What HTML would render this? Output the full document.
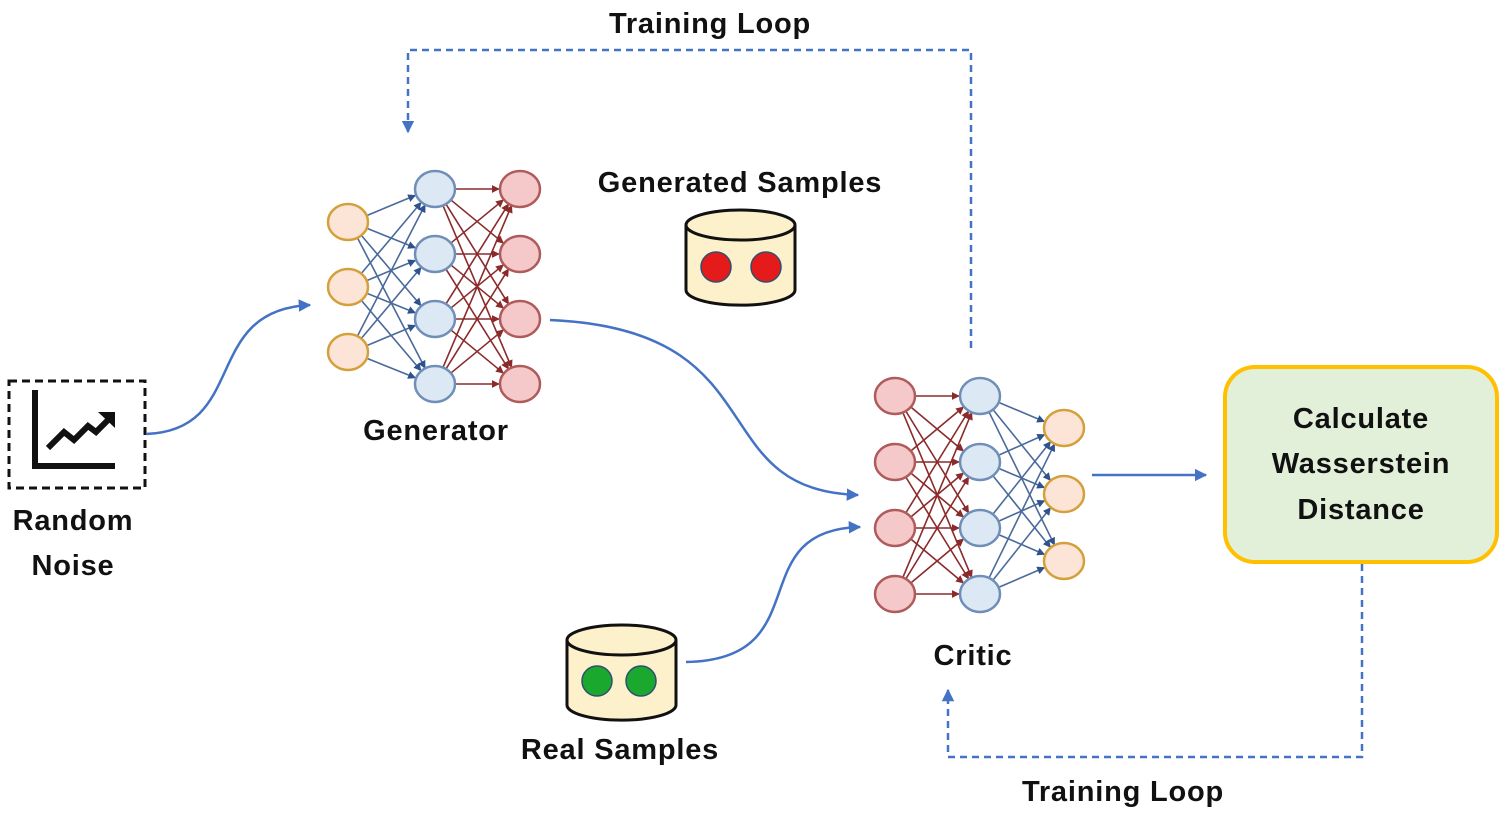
<!DOCTYPE html>
<html><head><meta charset="utf-8"><style>
html,body{margin:0;padding:0;background:#fff;}
svg{display:block;}
text{font-family:"Liberation Sans",sans-serif;font-size:29px;font-weight:bold;letter-spacing:0.8px;fill:#111;}
</style></head><body>
<svg id="s" width="1505" height="817" viewBox="0 0 1505 817" xmlns="http://www.w3.org/2000/svg">
<defs>
<marker id="ab" viewBox="0 0 10 10" refX="9" refY="5" markerWidth="5" markerHeight="5" orient="auto"><path d="M0,0L10,5L0,10z" fill="#4472c4"/></marker>
<marker id="nb" viewBox="0 0 10 10" refX="9" refY="5" markerWidth="5" markerHeight="5" orient="auto"><path d="M0,0L10,5L0,10z" fill="#2f528f"/></marker>
<marker id="nr" viewBox="0 0 10 10" refX="9" refY="5" markerWidth="5" markerHeight="5" orient="auto"><path d="M0,0L10,5L0,10z" fill="#8b2a2a"/></marker>
</defs>
<g id="net"></g>
<rect x="9" y="381" width="136" height="107" fill="none" stroke="#111" stroke-width="3" stroke-dasharray="8,5"/>
<path d="M35,390V466H115" fill="none" stroke="#111" stroke-width="6"/>
<path d="M48,448L64,432L74,440L88,426L96,432L108,420" fill="none" stroke="#111" stroke-width="6"/>
<path d="M98,412L115,412L115,428z" fill="#111"/>
<text x="73" y="530" text-anchor="middle">Random</text>
<text x="73" y="575" text-anchor="middle">Noise</text>
<path d="M146,434C250,430 200,310 310,305" fill="none" stroke="#4472c4" stroke-width="2.5" marker-end="url(#ab)"/>
<path d="M550,320C780,330 700,490 858,495" fill="none" stroke="#4472c4" stroke-width="2.5" marker-end="url(#ab)"/>
<path d="M686,662C820,660 740,530 860,527" fill="none" stroke="#4472c4" stroke-width="2.5" marker-end="url(#ab)"/>
<path d="M1092,475H1206" fill="none" stroke="#4472c4" stroke-width="2.5" marker-end="url(#ab)"/>
<path d="M971,348V50H408V132" fill="none" stroke="#4472c4" stroke-width="2.5" stroke-dasharray="7,5" marker-end="url(#ab)"/>
<path d="M1362,564V757H948V690" fill="none" stroke="#4472c4" stroke-width="2.5" stroke-dasharray="7,5" marker-end="url(#ab)"/>
<text x="710" y="33" text-anchor="middle">Training Loop</text>
<text x="1123" y="801" text-anchor="middle">Training Loop</text>
<text x="436" y="440" text-anchor="middle">Generator</text>
<text x="973" y="665" text-anchor="middle">Critic</text>
<text x="740" y="192" text-anchor="middle">Generated Samples</text>
<text x="620" y="759" text-anchor="middle">Real Samples</text>
<path d="M686,225V290A54,15 0 0 0 795,290V225" fill="#fdf1cc" stroke="#111" stroke-width="3"/>
<ellipse cx="740.5" cy="225" rx="54.5" ry="15" fill="#fdf1cc" stroke="#111" stroke-width="3"/>
<circle cx="716" cy="267" r="15" fill="#e51b1b" stroke="#2f4f6f" stroke-width="1.5"/>
<circle cx="766" cy="267" r="15" fill="#e51b1b" stroke="#2f4f6f" stroke-width="1.5"/>
<path d="M567,640V705A54,15 0 0 0 676,705V640" fill="#fdf1cc" stroke="#111" stroke-width="3"/>
<ellipse cx="621.5" cy="640" rx="54.5" ry="15" fill="#fdf1cc" stroke="#111" stroke-width="3"/>
<circle cx="597" cy="681" r="15" fill="#1aa82e" stroke="#2f4f6f" stroke-width="1.5"/>
<circle cx="641" cy="681" r="15" fill="#1aa82e" stroke="#2f4f6f" stroke-width="1.5"/>
<rect x="1225" y="367" width="272" height="195" rx="30" fill="#e2efd9" stroke="#ffc000" stroke-width="4"/>
<text x="1361" y="428" text-anchor="middle">Calculate</text>
<text x="1361" y="473" text-anchor="middle">Wasserstein</text>
<text x="1361" y="519" text-anchor="middle">Distance</text>
</svg>
<script>
var g=document.getElementById('net'),NS='http://www.w3.org/2000/svg';
function el(t,a){var e=document.createElementNS(NS,t);for(var k in a)e.setAttribute(k,a[k]);g.appendChild(e);}
var Y=[['#fce4d6','#d4a03c'],['#dde8f5','#6f8fb8'],['#f5c9c9','#b05b5b']];
function layer(x,ys,c){return ys.map(function(y){return {x:x,y:y,c:c};});}
function net(Ls,cols){
 for(var i=0;i<Ls.length-1;i++){
  Ls[i].forEach(function(a){Ls[i+1].forEach(function(b){
   var dx=b.x-a.x,dy=b.y-a.y,l=Math.sqrt(dx*dx+dy*dy);
   el('line',{x1:a.x+dx/l*20,y1:a.y+dy/l*18,x2:b.x-dx/l*21,y2:b.y-dy/l*18,stroke:cols[i][0],'stroke-width':1.6,'marker-end':'url(#'+cols[i][1]+')'});
  });});
 }
 Ls.forEach(function(L){L.forEach(function(n){el('ellipse',{cx:n.x,cy:n.y,rx:20,ry:18,fill:Y[n.c][0],stroke:Y[n.c][1],'stroke-width':2.5});});});
}
net([layer(348,[222,287,352],0),layer(435,[189,254,319,384],1),layer(520,[189,254,319,384],2)],[['#4a6a9a','nb'],['#8b2a2a','nr']]);
net([layer(895,[396,462,528,594],2),layer(980,[396,462,528,594],1),layer(1064,[428,494,561],0)],[['#8b2a2a','nr'],['#4a6a9a','nb']]);
</script>
</body></html>
